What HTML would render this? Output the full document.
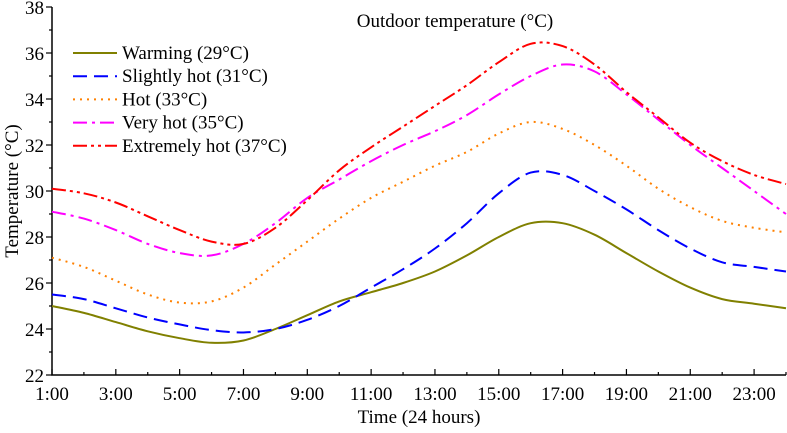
<!DOCTYPE html>
<html><head><meta charset="utf-8"><style>
body{margin:0;background:#fff}
svg text{font-family:"Liberation Serif",serif;font-size:19px;fill:#000}
</style></head><body>
<svg id="c" width="787" height="428"></svg>
<script>
const hours=[1,2,3,4,5,6,7,8,9,10,11,12,13,14,15,16,17,18,19,20,21,22,23,24];
const warming=[25.0,24.7,24.3,23.9,23.6,23.4,23.5,24.0,24.6,25.2,25.6,26.0,26.5,27.2,28.0,28.6,28.6,28.1,27.3,26.5,25.8,25.3,25.1,24.9];
const slightlyHot=[25.5,25.3,24.9,24.5,24.2,23.95,23.85,24.0,24.4,25.0,25.8,26.6,27.5,28.6,29.9,30.8,30.7,30.0,29.2,28.3,27.5,26.9,26.7,26.5];
const hot=[27.1,26.7,26.1,25.5,25.15,25.2,25.8,26.8,27.8,28.8,29.7,30.4,31.1,31.7,32.5,33.0,32.7,32.0,31.1,30.1,29.3,28.7,28.4,28.2];
const veryHot=[29.1,28.8,28.3,27.7,27.3,27.2,27.7,28.6,29.7,30.5,31.3,32.0,32.6,33.3,34.2,35.0,35.5,35.2,34.2,33.1,32.0,31.0,30.0,29.0];
const extremelyHot=[30.1,29.9,29.5,28.9,28.3,27.8,27.7,28.4,29.6,30.9,31.9,32.8,33.7,34.6,35.6,36.4,36.3,35.5,34.3,33.2,32.1,31.3,30.7,30.3];
const seriesNames=["Warming (29°C)","Slightly hot (31°C)","Hot (33°C)","Very hot (35°C)","Extremely hot (37°C)"];
const xTickLabels=["1:00","3:00","5:00","7:00","9:00","11:00","13:00","15:00","17:00","19:00","21:00","23:00"];
const yTickLabels=[22,24,26,28,30,32,34,36,38];

const NS="http://www.w3.org/2000/svg";
const svg=document.getElementById('c');
const X0=52,X1=786,Y0=375,Y1=7;
const xs=h=>X0+(h-1)/(24-1)*(X1-X0);
const ys=v=>Y0-(v-22)/(38-22)*(Y0-Y1);
function mk(t,a){const e=document.createElementNS(NS,t);for(const k in a)e.setAttribute(k,a[k]);svg.appendChild(e);return e;}
let ax=mk('path',{d:`M${X0},${Y1}V${Y0}H${X1}`,stroke:'#000','stroke-width':1.5,fill:'none'});


for(let v=22;v<=38;v++){const maj=v%2==0;mk('line',{x1:X0-(maj?6:3),x2:X0,y1:ys(v),y2:ys(v),stroke:'#000','stroke-width':1.2});}
yTickLabels.forEach(v=>{const t=mk('text',{x:X0-8,y:ys(v)+7,'text-anchor':'end'});t.textContent=v;

});
for(let h=1;h<=24;h++){const maj=h%2==1;mk('line',{x1:xs(h),x2:xs(h),y1:Y0,y2:Y0-(maj?6:3),stroke:'#000','stroke-width':1.2});}
xTickLabels.forEach(l=>{const h=parseInt(l);const t=mk('text',{x:xs(h),y:Y0+25,'text-anchor':'middle'});t.textContent=l;

});
let xt=mk('text',{x:419,y:423,'text-anchor':'middle'});xt.textContent='Time (24 hours)';


let yt=mk('text',{x:0,y:0,'text-anchor':'middle',transform:`translate(18,${(Y0+Y1)/2}) rotate(-90)`});yt.textContent='Temperature (°C)';


let tt=mk('text',{x:455,y:27,'text-anchor':'middle'});tt.textContent='Outdoor temperature (°C)';


const data=[warming,slightlyHot,hot,veryHot,extremelyHot];
const colors=['#808000','#0000ff','#ff8000','#ff00ff','#ff0000'];
const dashes=['none','14,7','2,5','14,5,3,5','14,4,3,4,3,4'];
const keys=['warming','slightly-hot','hot','very-hot','extremely-hot'];
function smooth(pts){let d=`M${pts[0][0]},${pts[0][1]}`;for(let i=0;i<pts.length-1;i++){const p0=pts[Math.max(0,i-1)],p1=pts[i],p2=pts[i+1],p3=pts[Math.min(pts.length-1,i+2)];
d+=`C${p1[0]+(p2[0]-p0[0])/6},${p1[1]+(p2[1]-p0[1])/6} ${p2[0]-(p3[0]-p1[0])/6},${p2[1]-(p3[1]-p1[1])/6} ${p2[0]},${p2[1]}`;}return d;}
data.forEach((arr,i)=>{const pts=arr.map((v,j)=>[xs(hours[j]),ys(v)]);
const p=mk('path',{d:smooth(pts),stroke:colors[i],'stroke-width':2,fill:'none','stroke-dasharray':dashes[i]});


const y=53+i*23.2;
const l=mk('line',{x1:73,x2:117,y1:y,y2:y,stroke:colors[i],'stroke-width':2,'stroke-dasharray':dashes[i]});


const t=mk('text',{x:122,y:y+6});t.textContent=seriesNames[i];


});
</script>
</body></html>
